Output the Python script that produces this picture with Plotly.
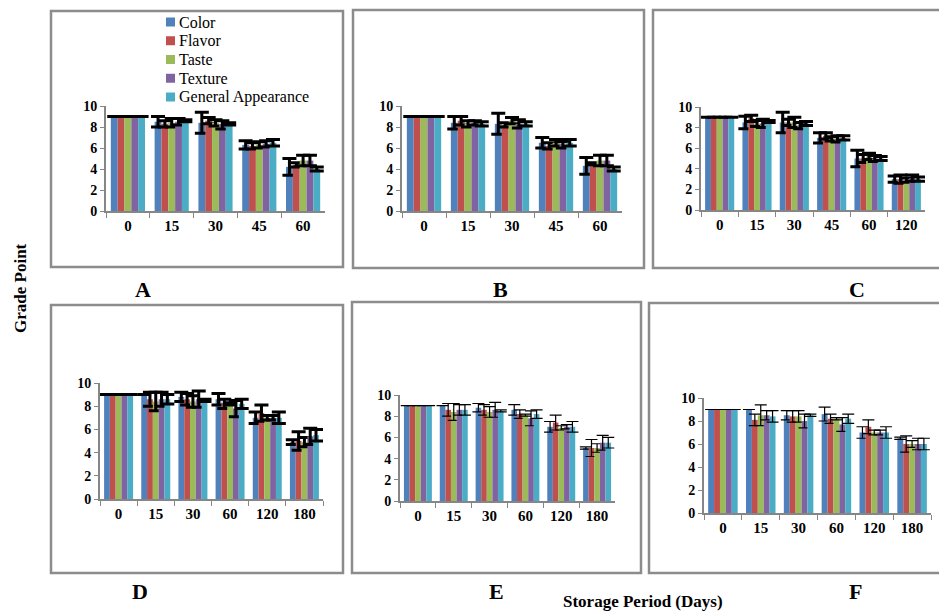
import plotly.graph_objects as go

W, H = 939, 613

attributes = ["Color", "Flavor", "Taste", "Texture", "General Appearance"]
colors = ["#4F81BD", "#C0504D", "#9BBB59", "#8064A2", "#4BACC6"]

days_A = ["0", "15", "30", "45", "60"]
vals_A = [
    [9.0, 8.5, 8.4, 6.3, 4.2],
    [9.0, 8.3, 8.6, 6.2, 4.4],
    [9.0, 8.4, 8.4, 6.3, 4.8],
    [9.0, 8.5, 8.2, 6.4, 4.8],
    [9.0, 8.6, 8.3, 6.5, 4.0],
]
err_A = [
    [0, 0.5, 1.0, 0.4, 0.8],
    [0, 0.3, 0.3, 0.3, 0.2],
    [0, 0.4, 0.3, 0.3, 0.5],
    [0, 0.3, 0.4, 0.3, 0.5],
    [0, 0.1, 0.1, 0.3, 0.2],
]

days_B = ["0", "15", "30", "45", "60"]
vals_B = [
    [9.0, 8.4, 8.3, 6.5, 4.3],
    [9.0, 8.6, 8.2, 6.2, 4.5],
    [9.0, 8.3, 8.6, 6.5, 4.8],
    [9.0, 8.4, 8.3, 6.3, 4.8],
    [9.0, 8.3, 8.3, 6.5, 4.0],
]
err_B = [
    [0, 0.6, 1.0, 0.5, 0.8],
    [0, 0.4, 0.2, 0.3, 0.1],
    [0, 0.3, 0.3, 0.3, 0.5],
    [0, 0.2, 0.4, 0.3, 0.5],
    [0, 0.2, 0.2, 0.3, 0.2],
]

days_C = ["0", "15", "30", "45", "60", "120"]
vals_C = [
    [9.0, 8.5, 8.5, 7.0, 5.0, 3.0],
    [9.0, 8.9, 8.5, 7.2, 5.0, 3.0],
    [9.0, 8.4, 8.5, 6.9, 5.2, 2.9],
    [9.0, 8.4, 8.2, 6.9, 5.0, 3.1],
    [9.0, 8.6, 8.4, 7.0, 5.0, 3.0],
]
err_C = [
    [0, 0.6, 1.0, 0.5, 0.8, 0.3],
    [0, 0.3, 0.3, 0.3, 0.4, 0.4],
    [0, 0.3, 0.5, 0.2, 0.3, 0.2],
    [0, 0.4, 0.3, 0.3, 0.3, 0.3],
    [0, 0.1, 0.2, 0.2, 0.2, 0.2],
]

days_D = ["0", "15", "30", "60", "120", "180"]
vals_D = [
    [9.0, 9.0, 8.8, 8.6, 7.0, 4.9],
    [9.0, 8.6, 8.6, 8.2, 7.4, 5.0],
    [9.0, 8.4, 8.4, 8.2, 7.0, 4.9],
    [9.0, 8.6, 8.6, 7.8, 7.0, 5.4],
    [9.0, 8.6, 8.5, 8.2, 7.0, 5.5],
]
err_D = [
    [0, 0.0, 0.4, 0.5, 0.5, 0.2],
    [0, 0.6, 0.5, 0.4, 0.7, 0.8],
    [0, 0.8, 0.5, 0.1, 0.2, 0.4],
    [0, 0.6, 0.7, 0.7, 0.2, 0.7],
    [0, 0.4, 0.1, 0.4, 0.5, 0.5],
]

days_E = ["0", "15", "30", "60", "120", "180"]
vals_E = [
    [9.0, 9.0, 8.8, 8.6, 7.0, 5.0],
    [9.0, 8.6, 8.6, 8.2, 7.4, 5.0],
    [9.0, 8.4, 8.4, 8.1, 6.9, 5.0],
    [9.0, 8.6, 8.6, 7.8, 7.0, 5.5],
    [9.0, 8.6, 8.5, 8.2, 7.0, 5.5],
]
err_E = [
    [0, 0.0, 0.4, 0.5, 0.5, 0.1],
    [0, 0.6, 0.5, 0.4, 0.7, 0.8],
    [0, 0.8, 0.5, 0.1, 0.2, 0.4],
    [0, 0.5, 0.7, 0.7, 0.2, 0.7],
    [0, 0.5, 0.1, 0.4, 0.5, 0.5],
]

days_F = ["0", "15", "30", "60", "120", "180"]
vals_F = [
    [9.0, 9.0, 8.5, 8.6, 7.0, 6.5],
    [9.0, 8.1, 8.4, 8.2, 7.5, 6.0],
    [9.0, 8.5, 8.4, 8.2, 7.0, 6.0],
    [9.0, 8.5, 8.0, 7.7, 7.0, 6.0],
    [9.0, 8.4, 8.5, 8.2, 7.0, 6.0],
]
err_F = [
    [0, 0.0, 0.4, 0.6, 0.5, 0.1],
    [0, 0.5, 0.5, 0.4, 0.6, 0.7],
    [0, 0.9, 0.5, 0.1, 0.2, 0.3],
    [0, 0.4, 0.6, 0.6, 0.2, 0.5],
    [0, 0.5, 0.1, 0.4, 0.5, 0.5],
]

panels = [
    # name, days, vals, errs, axes px (x0, x1, ytop, ybottom), box px (x0, y0, x1, y1), label pos, thick
    ("A", days_A, vals_A, err_A, (106, 325, 106, 211), (51, 11, 343, 267), (143, 289), True),
    ("B", days_B, vals_B, err_B, (402, 622, 106, 211), (353, 10, 644, 268), (500, 289), True),
    ("C", days_C, vals_C, err_C, (701, 925, 107, 210), (653, 10, 945, 268), (857, 289), True),
    ("D", days_D, vals_D, err_D, (100, 323, 383, 499), (51, 305, 343, 573), (140, 591), True),
    ("E", days_E, vals_E, err_E, (400, 615, 395, 501), (352, 302, 641, 573), (497, 591), False),
    ("F", days_F, vals_F, err_F, (704, 931, 398, 513), (649, 303, 945, 573), (855, 591), False),
]

FONT = "Liberation Serif"
AXC = "#868686"

fig = go.Figure()
layout = dict(
    width=W, height=H,
    margin=dict(l=0, r=0, t=0, b=0, pad=0),
    paper_bgcolor="white", plot_bgcolor="white",
    barmode="group", bargap=0.22, bargroupgap=0,
    font=dict(family=FONT, color="black"),
    showlegend=False,
)
shapes = []
annotations = []

for i, (name, days, vals, errs, ax, box, lab, thick) in enumerate(panels):
    n = i + 1
    xa = "x" if n == 1 else f"x{n}"
    ya = "y" if n == 1 else f"y{n}"
    for k, attr in enumerate(attributes):
        fig.add_trace(go.Bar(
            x=days, y=vals[k], name=attr, xaxis=xa, yaxis=ya,
            marker=dict(color=colors[k], line=dict(width=0)),
            legendgroup=attr,
            error_y=dict(type="data", array=errs[k], visible=True,
                         color="black", thickness=3 if thick else 1.2,
                         width=7 if thick else 6),
        ))
    x0, x1, yt, yb = ax
    layout["xaxis" if n == 1 else f"xaxis{n}"] = dict(
        domain=[x0 / W, x1 / W], anchor=ya, type="category", automargin=False,
        showline=True, linecolor=AXC, linewidth=2,
        ticks="outside", tickson="boundaries", ticklen=5, tickcolor=AXC, tickwidth=1,
        tickfont=dict(family=FONT, size=15, color="black", weight="bold"),
        showgrid=False, zeroline=False, fixedrange=True,
    )
    layout["yaxis" if n == 1 else f"yaxis{n}"] = dict(
        domain=[1 - yb / H, 1 - yt / H], anchor=xa, range=[0, 10], automargin=False,
        tickvals=[0, 2, 4, 6, 8, 10],
        showline=True, linecolor=AXC, linewidth=2,
        ticks="outside", ticklen=4, tickcolor=AXC, tickwidth=1,
        tickfont=dict(family=FONT, size=14, color="black", weight="bold"),
        showgrid=False, zeroline=False, fixedrange=True,
    )
    bx0, by0, bx1, by1 = box
    shapes.append(dict(type="rect", xref="paper", yref="paper",
                       x0=bx0 / W, x1=bx1 / W, y0=1 - by1 / H, y1=1 - by0 / H,
                       line=dict(color="#8c8c8c", width=2.5), fillcolor="rgba(0,0,0,0)",
                       layer="below"))
    annotations.append(dict(text=f"<b>{name}</b>", xref="paper", yref="paper",
                            x=lab[0] / W, y=1 - lab[1] / H, showarrow=False,
                            xanchor="center", yanchor="middle",
                            font=dict(family=FONT, size=22, color="black")))

# manual legend (panel A)
for k, attr in enumerate(attributes):
    cy = 22 + k * 18.75
    shapes.append(dict(type="rect", xref="paper", yref="paper",
                       x0=166 / W, x1=175 / W, y0=1 - (cy + 4.5) / H, y1=1 - (cy - 4.5) / H,
                       line=dict(width=0), fillcolor=colors[k]))
    annotations.append(dict(text=attr, xref="paper", yref="paper",
                            x=177 / W, y=1 - cy / H, showarrow=False,
                            xanchor="left", yanchor="middle",
                            font=dict(family=FONT, size=16, color="black")))

annotations.append(dict(text="<b>Grade Point</b>", xref="paper", yref="paper",
                        x=20 / W, y=1 - 288 / H, showarrow=False, textangle=-90,
                        xanchor="center", yanchor="middle",
                        font=dict(family=FONT, size=17, color="black")))
annotations.append(dict(text="<b>Storage Period (Days)</b>", xref="paper", yref="paper",
                        x=643 / W, y=1 - 601 / H, showarrow=False,
                        xanchor="center", yanchor="middle",
                        font=dict(family=FONT, size=17, color="black")))

layout["shapes"] = shapes
layout["annotations"] = annotations
fig.update_layout(**layout)
fig.write_html("out.html", config={"displayModeBar": False},
               post_script="document.body.style.margin='0';document.body.style.overflow='hidden';")
